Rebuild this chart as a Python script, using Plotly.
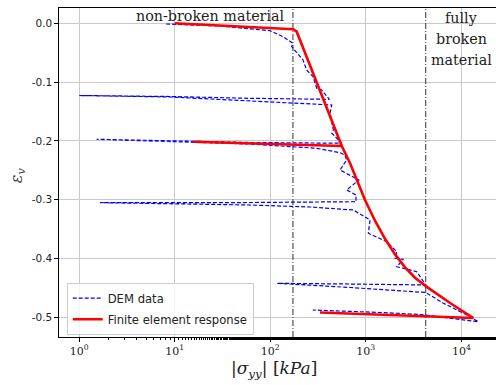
import plotly.graph_objects as go

# ---- data ----
dem_stress = [8.1, 29.7, 99.3, 136, 172, 167.5, 220, 240, 280, 306, 345, 415,
              61.3, 8.9, 1.0,
              8.9, 37.8, 161, 440,
              422, 457, 440, 560,
              61.3, 1.52,
              61.3, 306, 537, 604,
              630, 537, 845, 630, 789, 789,
              61.3, 1.65,
              61.3, 260, 740, 1107, 1062, 1655, 2107, 2023, 2471, 2107, 3412, 4240,
              684, 118,
              684, 4240,
              6480, 10500, 15070,
              7620, 3695, 1410, 278]
dem_strain = [-0.0012, -0.0046, -0.0126, -0.0228, -0.034, -0.0398, -0.0624, -0.0794, -0.0908, -0.1105, -0.1134, -0.1293,
              -0.1276, -0.1245, -0.1228,
              -0.1253, -0.1304, -0.1355, -0.1389,
              -0.1526, -0.1815, -0.187, -0.204,
              -0.2027, -0.1973,
              -0.2053, -0.2126, -0.220, -0.224,
              -0.2325, -0.2495, -0.2665, -0.2835, -0.292, -0.3034,
              -0.3048, -0.305,
              -0.309, -0.3124, -0.3175, -0.3345, -0.357, -0.3714, -0.3884, -0.3997, -0.4014, -0.414, -0.4224, -0.445,
              -0.4434, -0.4422,
              -0.4493, -0.4578,
              -0.476, -0.493, -0.5075,
              -0.502, -0.4952, -0.4918, -0.4876]

fe_stress = [10, 48, 174, 189, 560, 15.6, 560, 684, 981, 1248, 1589, 2023, 2576, 3275, 4240, 7620, 13360, 331]
fe_strain = [0.0, -0.0054, -0.0102, -0.0143, -0.2087, -0.2014, -0.2087, -0.238, -0.3005, -0.3357, -0.3665,
             -0.393, -0.4151, -0.4327, -0.447, -0.4757, -0.5012, -0.4918]

boundaries = [172.6, 4240]
x_tick_vals = [1, 10, 100, 1000, 10000]
x_tick_text = ["10<sup>0</sup>", "10<sup>1</sup>", "10<sup>2</sup>", "10<sup>3</sup>", "10<sup>4</sup>"]
y_tick_vals = [0.0, -0.1, -0.2, -0.3, -0.4, -0.5]
y_tick_text = ["0.0", "-0.1", "-0.2", "-0.3", "-0.4", "-0.5"]
y_range = [-0.5335, 0.026]

fig = go.Figure()

for b in boundaries:
    fig.add_trace(go.Scatter(x=[b, b], y=y_range, mode="lines", showlegend=False,
                             hoverinfo="skip",
                             line=dict(color="#333333", width=1, dash="6px,2px,1px,2px")))

fig.add_trace(go.Scatter(x=dem_stress, y=dem_strain, mode="lines", name="DEM data",
                         legendgroup="dem",
                         line=dict(color="#0000ff", width=1.2, dash="4px,2px")))
fig.add_trace(go.Scatter(x=fe_stress, y=fe_strain, mode="lines", name="Finite element response",
                         legendgroup="fe",
                         line=dict(color="#ff0000", width=2.6)))

serif = "DejaVu Serif"
txt = "#222222"
fig.update_layout(
    width=496, height=385,
    margin=dict(l=59, r=0, t=8, b=48),
    paper_bgcolor="white", plot_bgcolor="white",
    showlegend=True,
    legend=dict(x=0.0176, y=0.165, xanchor="left", yanchor="top",
                bgcolor="rgba(255,255,255,0.8)", bordercolor="#cccccc", borderwidth=1,
                font=dict(family="DejaVu Sans", size=11.6, color=txt),
                tracegroupgap=2, itemwidth=30),
    xaxis=dict(type="log", range=[-0.2126, 4.363],
               tickvals=x_tick_vals, ticktext=x_tick_text,
               tickfont=dict(family=serif, size=11, color=txt),
               showgrid=True, gridcolor="#c8c8c8", gridwidth=1,
               showline=True, linecolor="black", linewidth=1.2, mirror=True,
               ticks="outside", ticklen=3.5, tickcolor="black",
               minor=dict(ticks="outside", ticklen=2, tickcolor="black", showgrid=False),
               zeroline=False),
    yaxis=dict(range=y_range,
               tickvals=y_tick_vals, ticktext=y_tick_text,
               tickfont=dict(family="DejaVu Sans", size=10.5, color=txt),
               showgrid=True, gridcolor="#c8c8c8", gridwidth=1,
               showline=True, linecolor="black", linewidth=1.2, mirror=False,
               ticks="outside", ticklen=3.5, tickcolor="black", zeroline=False),
    annotations=[
        dict(text="non-broken material", xref="paper", yref="paper", x=0.521, y=0.976,
             xanchor="right", yanchor="middle", showarrow=False,
             font=dict(family=serif, size=14.3, color=txt)),
        dict(text="fully", xref="paper", yref="paper", x=0.922, y=0.970,
             xanchor="center", yanchor="middle", showarrow=False,
             font=dict(family=serif, size=14.3, color=txt)),
        dict(text="broken", xref="paper", yref="paper", x=0.922, y=0.906,
             xanchor="center", yanchor="middle", showarrow=False,
             font=dict(family=serif, size=14.3, color=txt)),
        dict(text="material", xref="paper", yref="paper", x=0.922, y=0.842,
             xanchor="center", yanchor="middle", showarrow=False,
             font=dict(family=serif, size=14.3, color=txt)),
        dict(text="<i>ε<sub>v</sub></i>", xref="paper", yref="paper", x=-0.096, y=0.492,
             xanchor="center", yanchor="middle", textangle=-90, showarrow=False,
             font=dict(family=serif, size=16, color="#444444")),
        dict(text="|<i>σ<sub>yy</sub></i>| [<i>kPa</i>]", xref="paper", yref="paper", x=0.492, y=-0.100,
             xanchor="center", yanchor="middle", showarrow=False,
             font=dict(family=serif, size=17, color=txt)),
    ],
)

fig.write_html("out.html", config={"displayModeBar": False},
               post_script="document.body.style.margin='0px';")
